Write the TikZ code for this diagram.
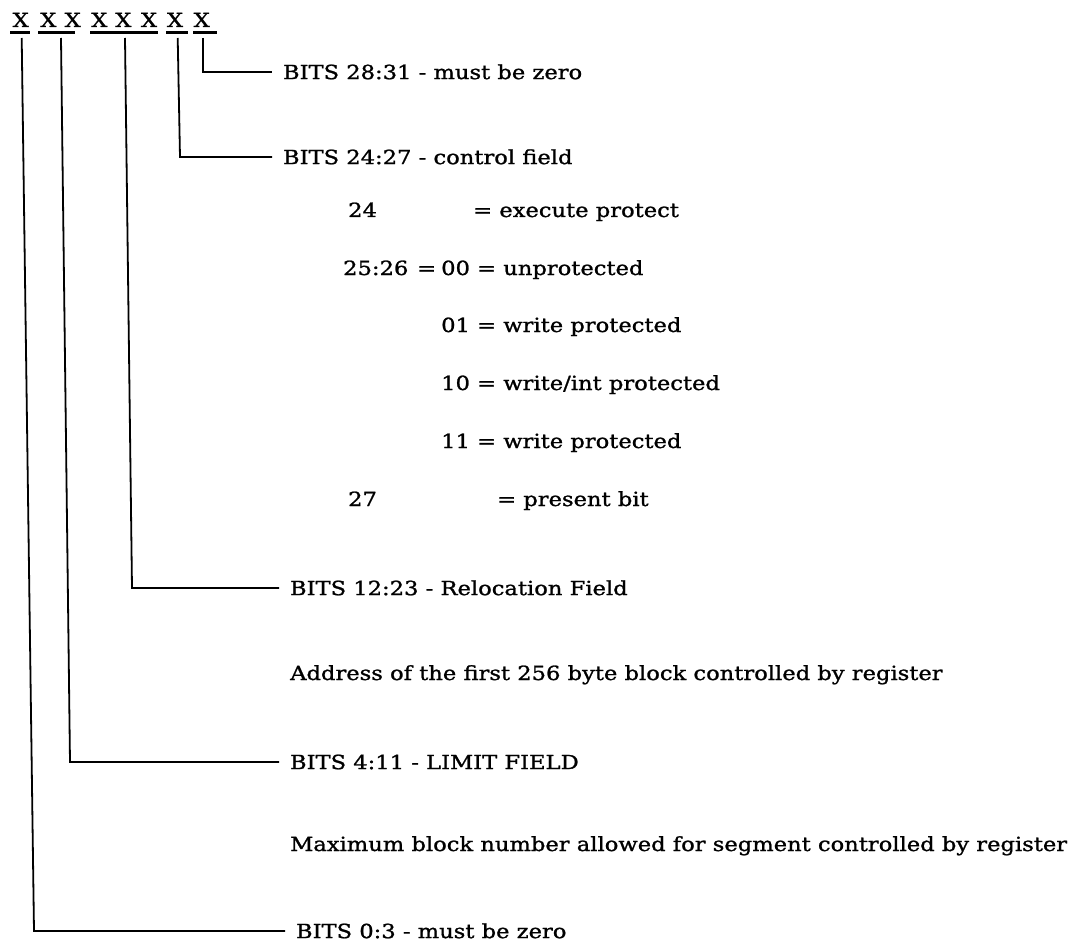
\documentclass[tikz,border=0pt]{standalone}
\usepackage{fontspec}
\setmainfont{DejaVu Serif}[FakeStretch=1.16,FakeBold=1.2]
\begin{document}
\begin{tikzpicture}[x=1pt,y=-1pt,
  font=\fontsize{19.5}{23}\selectfont,
  bitx/.style={anchor=base, inner sep=0pt},
  fld/.style={anchor=west, inner xsep=11pt, inner ysep=0pt, text height=14.2pt, text depth=0pt, outer sep=0pt},
  txt/.style={anchor=base west, inner sep=0pt},
  ul/.style={line width=2.2pt},
  lead/.style={line width=1.8pt}]
\useasboundingbox (0,0) rectangle (1076,944);

% register digits
\node[bitx] (x1) at (20.7,27) {X};
\node[bitx] (x2) at (48.3,27) {X};
\node[bitx] (x3) at (72.7,27) {X};
\node[bitx] (x4) at (99.3,27) {X};
\node[bitx] (x5) at (123.3,27) {X};
\node[bitx] (x6) at (149,27) {X};
\node[bitx] (x7) at (175,27) {X};
\node[bitx] (x8) at (201.7,27) {X};

% underlines of the fields
\coordinate (u1a) at (10,32.5);  \coordinate (u1b) at (30,32.5);
\coordinate (u2a) at (38,32.5);  \coordinate (u2b) at (75,32.5);
\coordinate (u3a) at (90,32.5);  \coordinate (u3b) at (158,32.5);
\coordinate (u4a) at (166,32.5); \coordinate (u4b) at (188,32.5);
\coordinate (u5a) at (193,32.5); \coordinate (u5b) at (217,32.5);
\draw[ul] (u1a) -- (u1b);
\draw[ul] (u2a) -- (u2b);
\draw[ul] (u3a) -- (u3b);
\draw[ul] (u4a) -- (u4b);
\draw[ul] (u5a) -- (u5b);

% field labels
\node[fld] (f5) at (272,72) {BITS 28:31 - must be zero};
\node[fld] (f4) at (272,157) {BITS 24:27 - control field};
\node[fld] (f3) at (279,588) {BITS 12:23 - Relocation Field};
\node[fld] (f2) at (279,762) {BITS 4:11 - LIMIT FIELD};
\node[fld] (f1) at (285,931) {BITS 0:3 - must be zero};

% control field details
\node[txt] (s24) at (348,217) {24};
\node[txt] (s24v) at (473,217) {= execute protect};
\node[txt] (s25) at (343,275) {25:26};
\node[txt] (s25e) at (417,275) {=};
\node[txt] (s25v) at (441,275) {00 = unprotected};
\node[txt] (s01) at (441,332) {01 = write protected};
\node[txt] (s10) at (441,390) {10 = write/int protected};
\node[txt] (s11) at (441,448) {11 = write protected};
\node[txt] (s27) at (348,506) {27};
\node[txt] (s27v) at (497,506) {= present bit};

% descriptions
\node[txt] (d3) at (290,680) {Address of the first 256 byte block controlled by register};
\node[txt] (d2) at (290,851) {Maximum block number allowed for segment controlled by register};

% leaders
\coordinate (t5) at (203,38);   \coordinate (b5) at (203,72);
\coordinate (t4) at (177.7,38); \coordinate (b4) at (180,157);
\coordinate (t3) at (125,38);   \coordinate (b3) at (132,588);
\coordinate (t2) at (61,38);    \coordinate (b2) at (70,762);
\coordinate (t1) at (21.7,38);  \coordinate (b1) at (34,931);
\draw[lead] (t5) -- (b5) -- (f5.west);
\draw[lead] (t4) -- (b4) -- (f4.west);
\draw[lead] (t3) -- (b3) -- (f3.west);
\draw[lead] (t2) -- (b2) -- (f2.west);
\draw[lead] (t1) -- (b1) -- (f1.west);
\end{tikzpicture}
\end{document}
